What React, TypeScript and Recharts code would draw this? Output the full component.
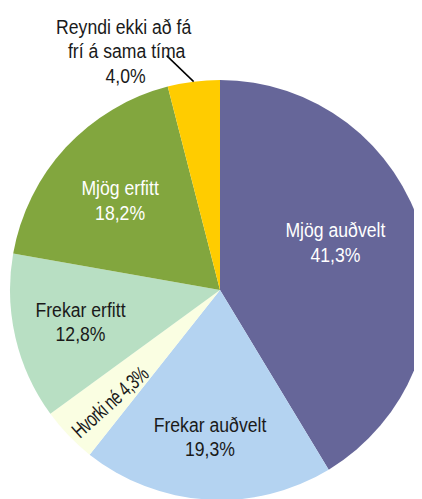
import React from "react";
import { PieChart, Pie, Cell } from "recharts";

const categories = [
  "Mjög auðvelt",
  "Frekar auðvelt",
  "Hvorki né",
  "Frekar erfitt",
  "Mjög erfitt",
  "Reyndi ekki að fá frí á sama tíma",
];
const values = [41.3, 19.3, 4.3, 12.8, 18.2, 4.0];
const valueLabels = ["41,3%", "19,3%", "4,3%", "12,8%", "18,2%", "4,0%"];

const colors = ["#666699", "#B4D3F1", "#FAFEE2", "#B8DFC3", "#82A63E", "#FFCC00"];
const textColors = ["#ffffff", "#1a1a1a", "#1a1a1a", "#1a1a1a", "#ffffff", "#1a1a1a"];

const data = categories.map((name, i) => ({ name, value: values[i], label: valueLabels[i] }));

const FONT = "'Liberation Sans', Arial, sans-serif";
const FS = 21;
const SX = 0.84;
const LH = 24.5;
const RAD = Math.PI / 180;

// label placement: angle offset (deg) from slice midAngle and radial fraction of outer radius
const labelAngleOffset = [7, -0.3, 1.6, -0.3, 0.8, 0];
const labelRadiusFrac = [0.595, 0.699, 0.748, 0.681, 0.64, 1];

const NarrowText = ({ x, y, fill, lines, dxs }: any) => (
  <g transform={`translate(${x} ${y}) scale(${SX} 1)`}>
    <text fill={fill} fontFamily={FONT} fontSize={FS} textAnchor="middle">
      {lines.map((t: string, i: number) => (
        <tspan key={i} x={(dxs ? dxs[i] : 0) / SX} y={(i - (lines.length - 1) / 2) * LH} dominantBaseline="central">
          {t}
        </tspan>
      ))}
    </text>
  </g>
);

const renderLabel = (props: any) => {
  const { cx, cy, midAngle, outerRadius, index } = props;
  const ang = midAngle + labelAngleOffset[index];
  const r = outerRadius * labelRadiusFrac[index];
  const x = cx + r * Math.cos(-ang * RAD);
  const y = cy + r * Math.sin(-ang * RAD);
  const fill = textColors[index];
  if (index === 2) {
    return (
      <g transform={`translate(${x} ${y}) rotate(-42) scale(0.7 1)`}>
        <text
          fill={fill}
          fontFamily={FONT}
          fontSize={21.5}
          letterSpacing={-0.8}
          textAnchor="middle"
          dominantBaseline="central"
        >
          {`Hvorki né ${valueLabels[index]}`}
        </text>
      </g>
    );
  }
  if (index === 5) {
    const ex = cx + outerRadius * Math.cos(-ang * RAD);
    const ey = cy + outerRadius * Math.sin(-ang * RAD);
    const sx = ex - 27;
    const sy = ey - 26;
    return (
      <g>
        <line x1={sx} y1={sy} x2={ex} y2={ey} stroke="#000" strokeWidth={1.5} />
        <NarrowText
          x={ex - 69}
          y={ey - 31}
          fill={fill}
          lines={["Reyndi ekki að fá", "frí á sama tíma", valueLabels[index]]}
          dxs={[-1, 2, 1]}
        />
      </g>
    );
  }
  return <NarrowText x={x} y={y} fill={fill} lines={[categories[index], valueLabels[index]]} />;
};

export default function App() {
  return (
    <div style={{ width: 430, height: 500 }}>
      <PieChart width={430} height={500} margin={{ top: 0, right: 0, bottom: 0, left: 0 }}>
        <Pie
          data={data}
          dataKey="value"
          nameKey="name"
          cx={212}
          cy={282}
          outerRadius={210}
          startAngle={90}
          endAngle={-270}
          stroke="none"
          label={renderLabel}
          labelLine={false}
          isAnimationActive={false}
        >
          {data.map((d, i) => (
            <Cell key={d.name} fill={colors[i]} />
          ))}
        </Pie>
      </PieChart>
    </div>
  );
}
